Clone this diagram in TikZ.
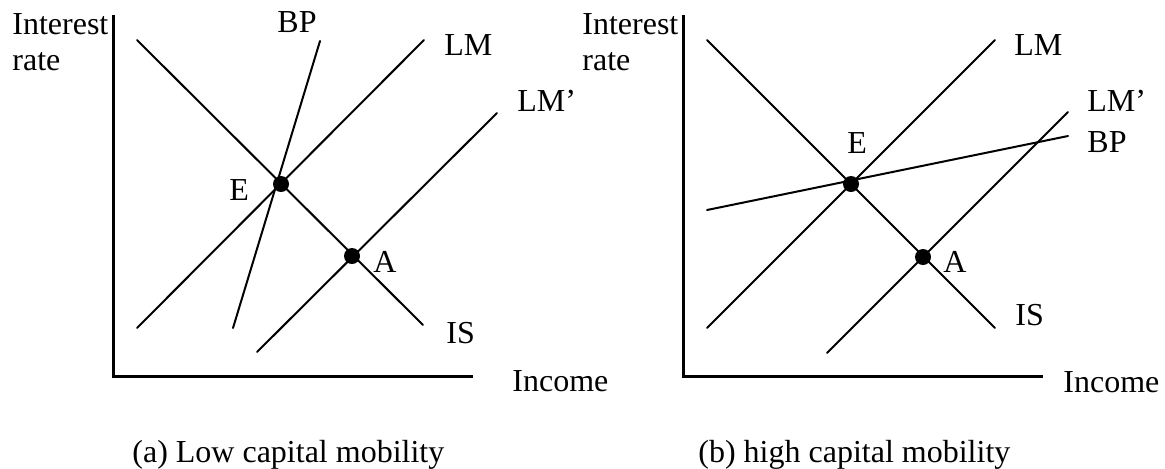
\documentclass[tikz,border=0pt]{standalone}
\usepackage{fontspec}
\setmainfont{Liberation Serif}
\usepackage{tikz}
\usetikzlibrary{positioning}
\tikzset{
  curve/.style={line width=1pt,line cap=round},
  axisline/.style={line width=1.5pt},
  eqpoint/.style={fill=black,circle,minimum size=8pt,inner sep=0pt},
  lbl/.style={anchor=base west,inner sep=0pt,font=\fontsize{16}{18}\selectfont},
  ylbl/.style={anchor=north west,inner sep=0pt,align=left,font=\fontsize{16}{18}\selectfont},
}

\begin{document}
\begin{tikzpicture}[x=0.5pt,y=-0.5pt]
    \useasboundingbox (0,0) rectangle (1165,468);
    % (a) low capital mobility
    \coordinate (oa) at (113,376);
    \coordinate (ya) at (113,15);
    \coordinate (xa) at (473,376);
    \draw[axisline] (ya) -- (oa) -- (xa);
    \coordinate (isa1) at (137,40);   \coordinate (isa2) at (423,325);
    \coordinate (lma1) at (137,328);  \coordinate (lma2) at (424,40);
    \coordinate (lmpa1) at (257,352); \coordinate (lmpa2) at (497,113);
    \coordinate (bpa1) at (320,41);   \coordinate (bpa2) at (233,328);
    \draw[curve] (isa1) -- (isa2);
    \draw[curve] (lma1) -- (lma2);
    \draw[curve] (lmpa1) -- (lmpa2);
    \draw[curve] (bpa1) -- (bpa2);
    \node[eqpoint] (Ea) at (281,184) {};
    \node[eqpoint] (Aa) at (352,256) {};
    \node[ylbl] (yla) at (12,13) {Interest\\rate};
    \node[lbl] (xla) at (512,391) {Income};
    \node[lbl] (bpla) at (277,32) {BP};
    \node[lbl] (lmla) at (444,55) {LM};
    \node[lbl] (lmpla) at (517,111) {LM’};
    \node[lbl] (Ela) at (229,200) {E};
    \node[lbl] (Ala) at (373,272) {A};
    \node[lbl] (isla) at (446,343) {IS};
    \node[lbl] (capa) at (132,462) {(a) Low capital mobility};
    % (b) high capital mobility
    \coordinate (ob) at (683,376);
    \coordinate (yb) at (683,15);
    \coordinate (xb) at (1043,376);
    \draw[axisline] (yb) -- (ob) -- (xb);
    \coordinate (isb1) at (707,40);   \coordinate (isb2) at (995,328);
    \coordinate (lmb1) at (707,328);  \coordinate (lmb2) at (995,40);
    \coordinate (lmpb1) at (827,353); \coordinate (lmpb2) at (1068,112);
    \coordinate (bpb1) at (707,210);  \coordinate (bpb2) at (1068,136);
    \draw[curve] (isb1) -- (isb2);
    \draw[curve] (lmb1) -- (lmb2);
    \draw[curve] (lmpb1) -- (lmpb2);
    \draw[curve] (bpb1) -- (bpb2);
    \node[eqpoint] (Eb) at (851,184) {};
    \node[eqpoint] (Ab) at (923,257) {};
    \node[ylbl] (ylb) at (582,13) {Interest\\rate};
    \node[lbl] (xlb) at (1063,392) {Income};
    \node[lbl] (lmlb) at (1014,55) {LM};
    \node[lbl] (lmplb) at (1087,111) {LM’};
    \node[lbl] (bplb) at (1087,152) {BP};
    \node[lbl] (Elb) at (847,153) {E};
    \node[lbl] (Alb) at (943,272) {A};
    \node[lbl] (islb) at (1015,325) {IS};
    \node[lbl] (capb) at (698,462) {(b) high capital mobility};
  \end{tikzpicture}
\end{document}
